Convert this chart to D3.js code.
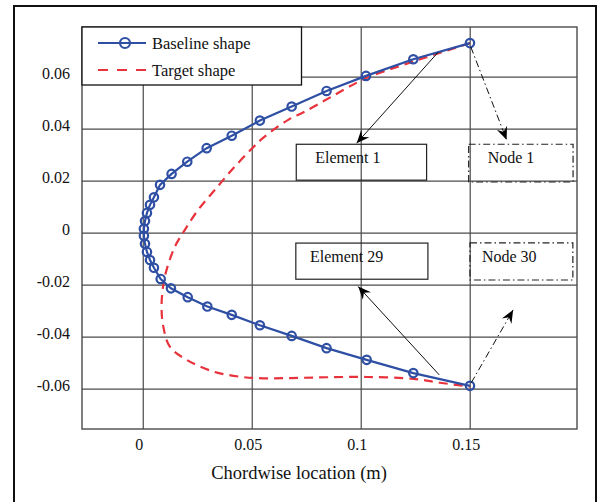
<!DOCTYPE html>
<html>
<head>
<meta charset="utf-8">
<script src="https://cdn.jsdelivr.net/npm/d3@7"></script>
<style>
    body { margin: 0; background: #fff; }
    svg text { font-family: "Liberation Serif", "Times New Roman", serif; fill: #111; }
</style>
</head>
<body>
<div id="chart-container"></div>
<script>
// baseline shape nodes, trailing edge upper -> leading edge -> trailing edge lower
let baseX = [0.1499, 0.1239, 0.1022, 0.0841, 0.0681, 0.0535, 0.0406, 0.0291, 0.0202, 0.0130, 0.0077,
    0.0049, 0.0031, 0.0017, 0.0008, 0.0003, 0.0003, 0.0008, 0.0017, 0.0031, 0.0049,
    0.0080, 0.0127, 0.0204, 0.0294, 0.0406, 0.0535, 0.0681, 0.0841, 0.1025, 0.1239, 0.1499];
let baseY = [0.0731, 0.0669, 0.0605, 0.0547, 0.0487, 0.0433, 0.0375, 0.0327, 0.0275, 0.0228, 0.0186,
    0.0138, 0.0109, 0.0078, 0.0047, 0.0017, -0.0010, -0.0041, -0.0072, -0.0103, -0.0133,
    -0.0176, -0.0212, -0.0246, -0.0282, -0.0314, -0.0354, -0.0395, -0.0442, -0.0487, -0.0538, -0.0587];

// target shape
let targetX = [0.1500, 0.1239, 0.1022, 0.0864, 0.0742, 0.0665, 0.0558, 0.0500, 0.0406, 0.0329, 0.0252,
    0.0191, 0.0145, 0.0107, 0.0092, 0.0084, 0.0092, 0.0122, 0.0199, 0.0321, 0.0444, 0.0550, 0.0681,
    0.0841, 0.1025, 0.1239, 0.1361, 0.1500];
let targetY = [0.0731, 0.0660, 0.0596, 0.0525, 0.0468, 0.0436, 0.0372, 0.0327, 0.0243, 0.0167, 0.0090,
    0.0013, -0.0052, -0.0141, -0.0199, -0.0282, -0.0359, -0.0436, -0.0487, -0.0532, -0.0552, -0.0558, -0.0557,
    -0.0554, -0.0553, -0.0560, -0.0575, -0.0590];

let xTicks = [0, 0.05, 0.1, 0.15];
let xTickLabels = ['0', '0.05', '0.1', '0.15'];
let yTicks = [0.06, 0.04, 0.02, 0, -0.02, -0.04, -0.06];
let yTickLabels = ['0.06', '0.04', '0.02', '0', '-0.02', '-0.04', '-0.06'];

let seriesNames = ['Baseline shape', 'Target shape'];
let xTitle = 'Chordwise location (m)';

// annotation boxes and arrows, in data units
let boxLabels = ['Element 1', 'Node 1', 'Element 29', 'Node 30'];
let boxX0 = [0.0702, 0.1493, 0.0700, 0.1499];
let boxX1 = [0.1300, 0.1972, 0.1306, 0.1971];
let boxY0 = [0.0342, 0.0342, -0.0038, -0.0037];
let boxY1 = [0.0204, 0.0197, -0.0177, -0.0180];
let boxTextX = [0.0789, 0.1580, 0.0765, 0.1554];
let boxTextY = [0.0270, 0.0270, -0.0109, -0.0111];
let boxDashed = [false, true, false, true];

let arrowFrom = [[0.1353, 0.0696], [0.1503, 0.0716], [0.1358, -0.0545], [0.1505, -0.0575]];
let arrowTo = [[0.0979, 0.0346], [0.1667, 0.0359], [0.0986, -0.0205], [0.1697, -0.0295]];

let blue = '#2e4fa3';
let red = '#e8323c';
let dashDot = '7,3,1.5,3';

let svg = d3.select('#chart-container').append('svg')
    .attr('width', 598)
    .attr('height', 502);

// outer frame (bottom edge runs off the picture)
svg.append('path')
    .attr('d', 'M14,510 L14,6 L596,6 L596,510')
    .attr('fill', 'none')
    .attr('stroke', '#111')
    .attr('stroke-width', 2);

let x = d3.scaleLinear().domain([-0.0281, 0.199]).range([82, 577]);
let y = d3.scaleLinear().domain([-0.0753, 0.0793]).range([429, 27]);

let defs = svg.append('defs');
defs.append('marker')
    .attr('id', 'arrowhead')
    .attr('markerUnits', 'userSpaceOnUse')
    .attr('viewBox', '-14 -7 16 14')
    .attr('markerWidth', 16)
    .attr('markerHeight', 14)
    .attr('refX', 0)
    .attr('refY', 0)
    .attr('orient', 'auto')
    .append('path')
    .attr('d', 'M0,0 L-13,-5.5 L-8.5,0 L-13,5.5 Z')
    .attr('fill', '#000')
    .attr('stroke', 'none');

// gridlines
svg.append('g')
    .selectAll('line')
    .data(xTicks)
    .enter().append('line')
    .attr('x1', d => x(d))
    .attr('x2', d => x(d))
    .attr('y1', y.range()[0])
    .attr('y2', y.range()[1])
    .attr('stroke', '#4a4a4a')
    .attr('stroke-width', 1.2);

svg.append('g')
    .selectAll('line')
    .data(yTicks)
    .enter().append('line')
    .attr('x1', x.range()[0])
    .attr('x2', x.range()[1])
    .attr('y1', d => y(d))
    .attr('y2', d => y(d))
    .attr('stroke', '#4a4a4a')
    .attr('stroke-width', 1.2);

svg.append('rect')
    .attr('x', x.range()[0])
    .attr('y', y.range()[1])
    .attr('width', x.range()[1] - x.range()[0])
    .attr('height', y.range()[0] - y.range()[1])
    .attr('fill', 'none')
    .attr('stroke', '#4a4a4a')
    .attr('stroke-width', 1.4);

// tick labels
svg.append('g')
    .selectAll('text')
    .data(xTicks)
    .enter().append('text')
    .attr('x', d => x(d) - 4)
    .attr('y', 450)
    .attr('text-anchor', 'middle')
    .attr('font-size', 16)
    .text((d, i) => xTickLabels[i]);

svg.append('g')
    .selectAll('text')
    .data(yTicks)
    .enter().append('text')
    .attr('x', 70)
    .attr('y', d => y(d) + 1.5)
    .attr('text-anchor', 'end')
    .attr('font-size', 16)
    .text((d, i) => yTickLabels[i]);

svg.append('text')
    .attr('x', 299)
    .attr('y', 479)
    .attr('text-anchor', 'middle')
    .attr('font-size', 18.5)
    .text(xTitle);

// target shape
let targetPts = targetX.map((d, i) => [d, targetY[i]]);
svg.append('path')
    .datum(targetPts)
    .attr('d', d3.line().x(d => x(d[0])).y(d => y(d[1])).curve(d3.curveCatmullRom.alpha(0.5)))
    .attr('fill', 'none')
    .attr('stroke', red)
    .attr('stroke-width', 2.2)
    .attr('stroke-dasharray', '9,6');

// baseline shape
let basePts = baseX.map((d, i) => [d, baseY[i]]);
svg.append('path')
    .datum(basePts)
    .attr('d', d3.line().x(d => x(d[0])).y(d => y(d[1])))
    .attr('fill', 'none')
    .attr('stroke', blue)
    .attr('stroke-width', 2.2);

svg.append('g')
    .selectAll('circle')
    .data(basePts)
    .enter().append('circle')
    .attr('cx', d => x(d[0]))
    .attr('cy', d => y(d[1]))
    .attr('r', 4.2)
    .attr('fill', 'none')
    .attr('stroke', blue)
    .attr('stroke-width', 2.2);

// annotation boxes
let boxes = svg.append('g');
boxLabels.forEach(function (label, i) {
    boxes.append('rect')
        .attr('x', x(boxX0[i]))
        .attr('y', y(boxY0[i]))
        .attr('width', x(boxX1[i]) - x(boxX0[i]))
        .attr('height', y(boxY1[i]) - y(boxY0[i]))
        .attr('fill', 'none')
        .attr('stroke', '#222')
        .attr('stroke-width', 1.2)
        .attr('stroke-dasharray', boxDashed[i] ? dashDot : null);
    boxes.append('text')
        .attr('x', x(boxTextX[i]))
        .attr('y', y(boxTextY[i]))
        .attr('font-size', 16)
        .text(label);
});

// arrows
svg.append('g')
    .selectAll('line')
    .data(arrowFrom)
    .enter().append('line')
    .attr('x1', d => x(d[0]))
    .attr('y1', d => y(d[1]))
    .attr('x2', (d, i) => x(arrowTo[i][0]))
    .attr('y2', (d, i) => y(arrowTo[i][1]))
    .attr('stroke', '#111')
    .attr('stroke-width', 1)
    .attr('stroke-dasharray', (d, i) => boxDashed[i] ? dashDot : null)
    .attr('marker-end', 'url(#arrowhead)');

// legend
let legend = svg.append('g');
legend.append('rect')
    .attr('x', 82)
    .attr('y', 27)
    .attr('width', 219.5)
    .attr('height', 58)
    .attr('fill', '#fff')
    .attr('stroke', '#111')
    .attr('stroke-width', 1.3);

legend.append('line')
    .attr('x1', 98).attr('x2', 146)
    .attr('y1', 43).attr('y2', 43)
    .attr('stroke', blue)
    .attr('stroke-width', 2.2);
legend.append('circle')
    .attr('cx', 125).attr('cy', 43)
    .attr('r', 5)
    .attr('fill', 'none')
    .attr('stroke', blue)
    .attr('stroke-width', 2.2);
legend.append('line')
    .attr('x1', 98).attr('x2', 147)
    .attr('y1', 70).attr('y2', 70)
    .attr('stroke', red)
    .attr('stroke-width', 2.2)
    .attr('stroke-dasharray', '10,9');

legend.selectAll('text')
    .data(seriesNames)
    .enter().append('text')
    .attr('x', 152)
    .attr('y', (d, i) => 48.5 + i * 27)
    .attr('font-size', 16.5)
    .text(d => d);
</script>
</body>
</html>
